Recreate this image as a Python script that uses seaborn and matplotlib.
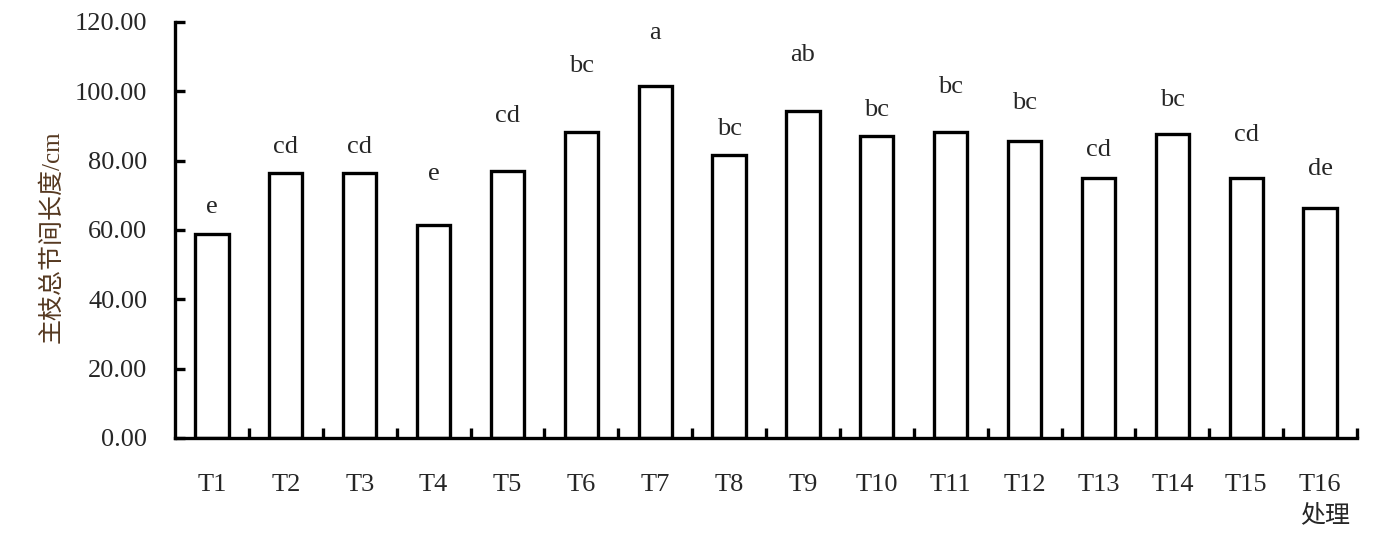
import matplotlib
matplotlib.use("Agg")
import matplotlib.pyplot as plt
import seaborn as sns
import pandas as pd

treatments = ["T1", "T2", "T3", "T4", "T5", "T6", "T7", "T8",
              "T9", "T10", "T11", "T12", "T13", "T14", "T15", "T16"]
length_cm = [58.8, 76.3, 76.3, 61.3, 77.0, 88.2, 101.5, 81.5,
             94.3, 87.0, 88.2, 85.6, 75.1, 87.6, 75.1, 66.4]
letters = ["e", "cd", "cd", "e", "cd", "bc", "a", "bc",
           "ab", "bc", "bc", "bc", "cd", "bc", "cd", "de"]
# height of the significance letters (mean + sd, error bars not drawn)
letter_y = [64.9, 82.3, 82.3, 74.4, 91.2, 105.5, 115.1, 87.4,
            108.6, 93.0, 99.4, 94.8, 81.3, 95.8, 85.8, 75.9]

df = pd.DataFrame({"处理": treatments, "长度": length_cm})

sns.set_style("white")
plt.rcParams["font.family"] = ["Liberation Serif", "Noto Sans CJK SC"]
fs = 19

fig = plt.figure(figsize=(13.85, 5.37), dpi=100)
ax = fig.add_axes([0.1264, 0.1844, 0.8534, 0.7747])

sns.barplot(data=df, x="处理", y="长度", color="white", edgecolor="black",
            linewidth=2.4, width=0.45, saturation=1, ax=ax)

for i, (lab, y) in enumerate(zip(letters, letter_y)):
    ax.text(i, y, lab, ha="center", va="baseline", fontsize=fs)

ax.set_xlim(-0.5, len(treatments) - 0.5)
ax.set_ylim(0, 120)
ax.set_yticks(range(0, 121, 20))
ax.set_yticklabels([f"{v:.2f}" for v in range(0, 121, 20)])

# ticks at category boundaries
ax.set_xticks([i + 0.5 for i in range(len(treatments))], minor=True)
ax.tick_params(axis="x", which="major", bottom=True, length=0, pad=26, labelsize=fs)
ax.tick_params(axis="x", which="minor", bottom=True, direction="in", length=7,
               width=2.4, color="black")
ax.tick_params(axis="y", left=True, direction="in", length=7, width=2.4,
               color="black", pad=20, labelsize=fs)

for side in ["top", "right"]:
    ax.spines[side].set_visible(False)
for side in ["left", "bottom"]:
    ax.spines[side].set_linewidth(2.4)
    ax.spines[side].set_color("black")

ax.set_xlabel("")
ax.set_ylabel("主枝总节间长度/cm", fontsize=18, color="#553820")
ax.yaxis.set_label_coords(-0.094, 0.484)
fig.text(0.957, 0.04, "处理", ha="center", va="center", fontsize=18)

fig.savefig("out.png", dpi=100)
